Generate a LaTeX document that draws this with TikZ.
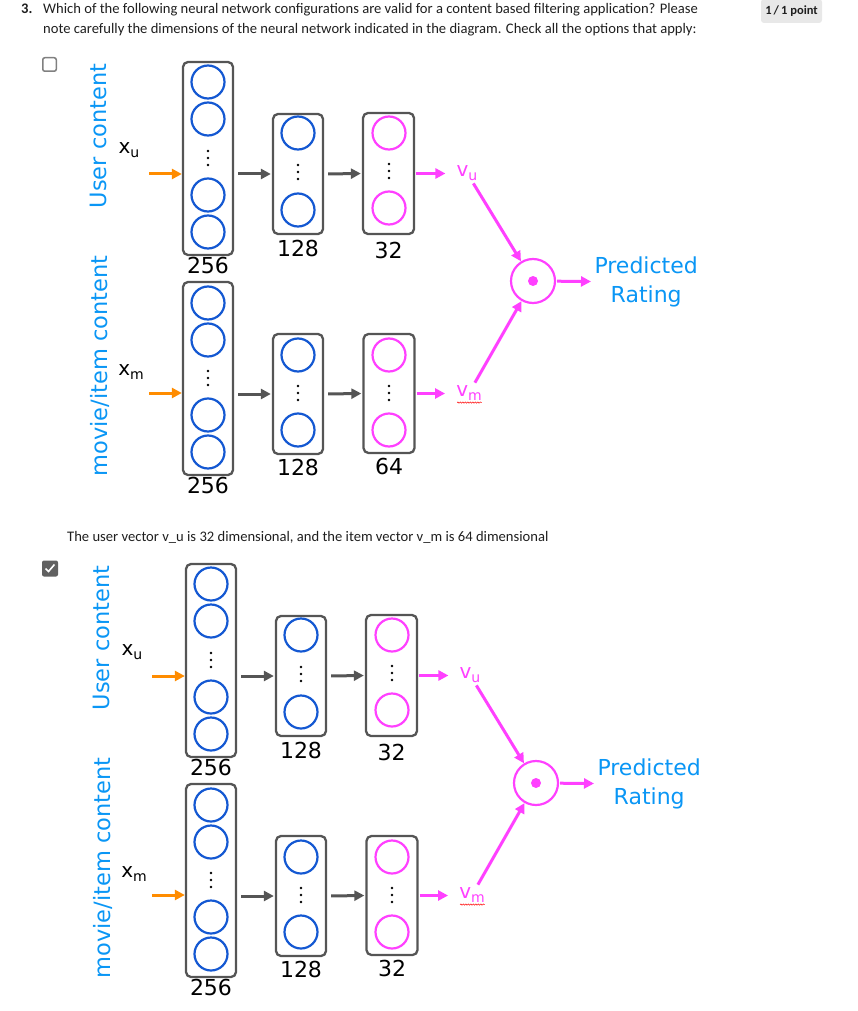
\documentclass[tikz,border=0pt]{standalone}
\usepackage{fontspec}
\setmainfont{DejaVu Sans}
\newfontfamily\uifont{Carlito}
\usetikzlibrary{positioning,arrows.meta,decorations.pathmorphing}

\definecolor{netblue}{RGB}{20,88,210}
\definecolor{netpink}{RGB}{255,64,255}
\definecolor{netorange}{RGB}{255,140,0}
\definecolor{boxgray}{RGB}{85,85,85}
\definecolor{labelblue}{RGB}{10,150,245}
\definecolor{textgray}{RGB}{31,31,31}
\definecolor{checkgray}{RGB}{97,97,97}
\definecolor{badgegray}{RGB}{232,232,232}

\newcommand{\lowidx}[1]{\raisebox{-0.35ex}{\fontsize{14}{14}\selectfont #1}}

\begin{document}
\begin{tikzpicture}[x=1pt,y=-1pt]

    % styles
    \tikzstyle{layerbox} = [rectangle, rounded corners=5pt, draw=boxgray, line width=2.3pt, minimum width=50pt]
    \tikzstyle{unitblue} = [circle, draw=netblue, line width=2.2pt, minimum size=33pt, inner sep=0pt]
    \tikzstyle{unitpink} = [unitblue, draw=netpink]
    \tikzstyle{sidelabel} = [rotate=90, text=labelblue, font=\fontsize{22.5}{27}\selectfont]
    \tikzstyle{sizelabel} = [font=\fontsize{22}{26}\selectfont, inner sep=1pt]
    \tikzstyle{varlabel} = [font=\fontsize{20}{24}\selectfont, inner sep=1pt]
    \tikzstyle{uitext} = [anchor=base west, inner sep=0pt, text=textgray, font=\uifont\fontsize{14.6}{17}\selectfont]
    \tikzstyle{feed} = [line width=3pt, -{Triangle[length=10pt,width=10pt]}]
    \tikzstyle{arrow} = [feed, boxgray, shorten <=4pt, shorten >=1pt]

    \useasboundingbox (0,0) rectangle (858,1011);

    % question
    \node (qnum) [uitext, font=\uifont\bfseries\fontsize{14.6}{17}\selectfont] at (21,14) {3.};
    \node (qline1) [uitext] at (43,14) {Which of the following neural network configurations are valid for a content based filtering application? Please};
    \node (qline2) [uitext] at (43,34) {note carefully the dimensions of the neural network indicated in the diagram. Check all the options that apply:};
    \node (score) [fill=badgegray, rounded corners=3pt, minimum width=61pt, minimum height=24pt, text=textgray, font=\uifont\bfseries\fontsize{12.5}{14}\selectfont] at (791.5,11) {1\,/\,1 point};
    \node (note) [uitext] at (67,541) {The user vector v\_u is 32 dimensional, and the item vector v\_m is 64 dimensional};

    % check boxes
    \node (boxa) [rectangle, draw=gray, rounded corners=2pt, line width=1.5pt, minimum size=13.5pt] at (49.5,64.5) {};
    \node (boxb) [rectangle, fill=checkgray, rounded corners=2pt, minimum size=16pt] at (50,568.5) {};
    \draw [white, line width=1.6pt] ([xshift=-4.5pt]boxb.center) -- ++(3,3) -- ++(6,-7);

    % the two networks
    \foreach \opt/\sx/\sy/\mdim in {a/0/0/64, b/3/502/32} {
    \begin{scope}[shift={(\sx,\sy)}]

        % user tower
        \node (su\opt) [sidelabel] at (98,136) {User content};
        \node (xu\opt) [varlabel] at (129,150) {x\lowidx{u}};
        \coordinate (inu\opt) at (149,174);
        \node (u1\opt) [layerbox, minimum height=193pt] at (208,158.5) {};
        \node (u2\opt) [layerbox, minimum height=120pt] at (298,174) {};
        \node (u3\opt) [layerbox, minimum height=121pt, minimum width=51pt] at (388.5,173.5) {};
        \foreach \y in {82,119,195,232} \node (ua\opt\y) [unitblue] at (208,\y) {};
        \foreach \y in {133,210} \node (ub\opt\y) [unitblue] at (298,\y) {};
        \foreach \y in {133,208} \node (uc\opt\y) [unitpink] at (389,\y) {};
        \foreach \x/\y in {208/158, 298/172, 389/171} \foreach \k in {-7,0,7} \fill (\x,\y+\k) circle (1.4pt);
        \node (nu1\opt) [sizelabel, below=0pt of u1\opt] {256};
        \node (nu2\opt) [sizelabel, below=4pt of u2\opt] {128};
        \node (nu3\opt) [sizelabel, below=6pt of u3\opt] {32};
        \node (vu\opt) [varlabel, text=netpink] at (467,173) {v\lowidx{u}};

        % movie tower
        \node (sm\opt) [sidelabel] at (100,366) {movie/item content};
        \node (xm\opt) [varlabel] at (131,372) {x\lowidx{m}};
        \coordinate (inm\opt) at (149,393);
        \node (m1\opt) [layerbox, minimum height=193pt] at (208,378.5) {};
        \node (m2\opt) [layerbox, minimum height=120pt] at (298,394) {};
        \node (m3\opt) [layerbox, minimum height=119pt, minimum width=51pt] at (389,393.5) {};
        \foreach \y in {303,340,415,452} \node (ma\opt\y) [unitblue] at (208,\y) {};
        \foreach \y in {355,430} \node (mb\opt\y) [unitblue] at (298,\y) {};
        \foreach \y in {355,430} \node (mc\opt\y) [unitpink] at (389,\y) {};
        \foreach \x/\y in {208/378, 298/393, 389/393} \foreach \k in {-7,0,7} \fill (\x,\y+\k) circle (1.4pt);
        \node (nm1\opt) [sizelabel, below=0pt of m1\opt] {256};
        \node (nm2\opt) [sizelabel, below=3pt of m2\opt] {128};
        \node (nm3\opt) [sizelabel, below=3pt of m3\opt] {\mdim};
        \node (vm\opt) [varlabel, text=netpink] at (469,393) {v\lowidx{m}};
        \draw [red!85, line width=0.6pt, decorate, decoration={snake, amplitude=0.6pt, segment length=2.5pt}]
            ([xshift=2pt,yshift=-1pt]vm\opt.south west) -- ([xshift=-1pt,yshift=-1pt]vm\opt.south east);

        % dot product
        \node (dot\opt) [circle, draw=netpink, line width=2.2pt, minimum size=44pt, inner sep=0pt] at (533,281) {};
        \fill [netpink] (dot\opt) circle (5pt);
        \node (pred\opt) [anchor=west, align=center, text=labelblue, font=\fontsize{22}{29}\selectfont] at (591,282) {Predicted\\Rating};

        % connectors
        \draw [feed, netorange] (inu\opt) -- (inu\opt -| u1\opt.west);
        \draw [arrow] (u2\opt.west -| u1\opt.east) -- (u2\opt.west);
        \draw [arrow] (u2\opt.east) -- (u3\opt.west);
        \draw [feed, netpink, shorten <=1pt, shorten >=10pt] (u3\opt.east) -- (u3\opt.east -| vu\opt.west);
        \draw [feed, netorange] (inm\opt) -- (inm\opt -| m1\opt.west);
        \draw [arrow] (m2\opt.west -| m1\opt.east) -- (m2\opt.west);
        \draw [arrow] (m2\opt.east) -- (m3\opt.west);
        \draw [feed, netpink, shorten <=1pt, shorten >=10pt] (m3\opt.east) -- (m3\opt.east -| vm\opt.west);
        \draw [feed, netpink, shorten <=2pt] (vu\opt) -- (dot\opt);
        \draw [feed, netpink, shorten <=2pt] (vm\opt) -- (dot\opt);
        \draw [feed, netpink, shorten <=1pt] (dot\opt) -- (pred\opt);

    \end{scope}
    }

\end{tikzpicture}
\end{document}
